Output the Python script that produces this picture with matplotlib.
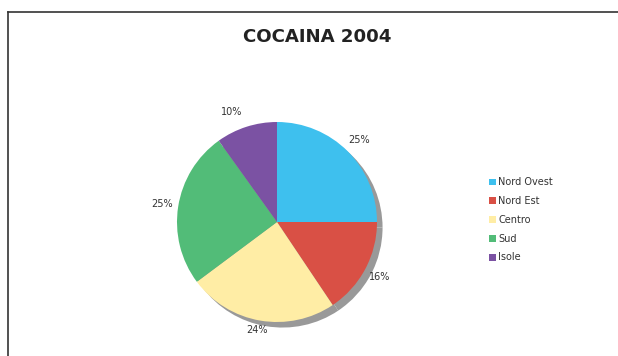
import matplotlib.pyplot as plt
from matplotlib.lines import Line2D

regions = ['Nord Ovest', 'Nord Est', 'Centro', 'Sud', 'Isole']
values = [25.0, 15.6, 24.2, 25.3, 9.9]
colors = ['#3EC0EE', '#D95045', '#FFEDA5', '#52BC78', '#7B52A3']

W, H = 618, 356
fig = plt.figure(figsize=(W / 100, H / 100), dpi=100)

# cornice del grafico (sinistra e sopra)
fig.add_artist(Line2D([8 / W, 8 / W], [0, 1 - 12 / H], color='#333333', lw=1.2))
fig.add_artist(Line2D([8 / W, 1], [1 - 12 / H, 1 - 12 / H], color='#333333', lw=1.2))

fig.text(317.5 / W, 1 - 36.5 / H, 'COCAINA 2004', ha='center', va='center',
         fontsize=13.1, fontweight='bold', color='#222222')

ax = fig.add_axes([152 / W, 9 / H, 250 / W, 250 / H])
wedges, texts, autotexts = ax.pie(
    values, colors=colors, startangle=90, counterclock=False,
    autopct='%.0f%%', pctdistance=1.16, labeldistance=None,
    wedgeprops={'linewidth': 0},
    shadow={'ox': 0.04, 'oy': -0.04, 'facecolor': '#999999',
            'edgecolor': '#999999', 'alpha': 1},
    textprops={'fontsize': 7, 'color': '#333333'})

# etichette piu' vicine alla torta in basso e in alto a sinistra
autotexts[2].set_y(autotexts[2].get_position()[1] + 0.06)
autotexts[4].set_x(autotexts[4].get_position()[0] - 0.1)

fig.legend(wedges, regions, loc='center left', bbox_to_anchor=(480 / W, 1 - 220 / H),
           frameon=False, fontsize=7, handlelength=0.7, handleheight=0.7,
           handletextpad=0.3, labelspacing=0.9, labelcolor='#333333')

fig.savefig('out.png', dpi=100)
